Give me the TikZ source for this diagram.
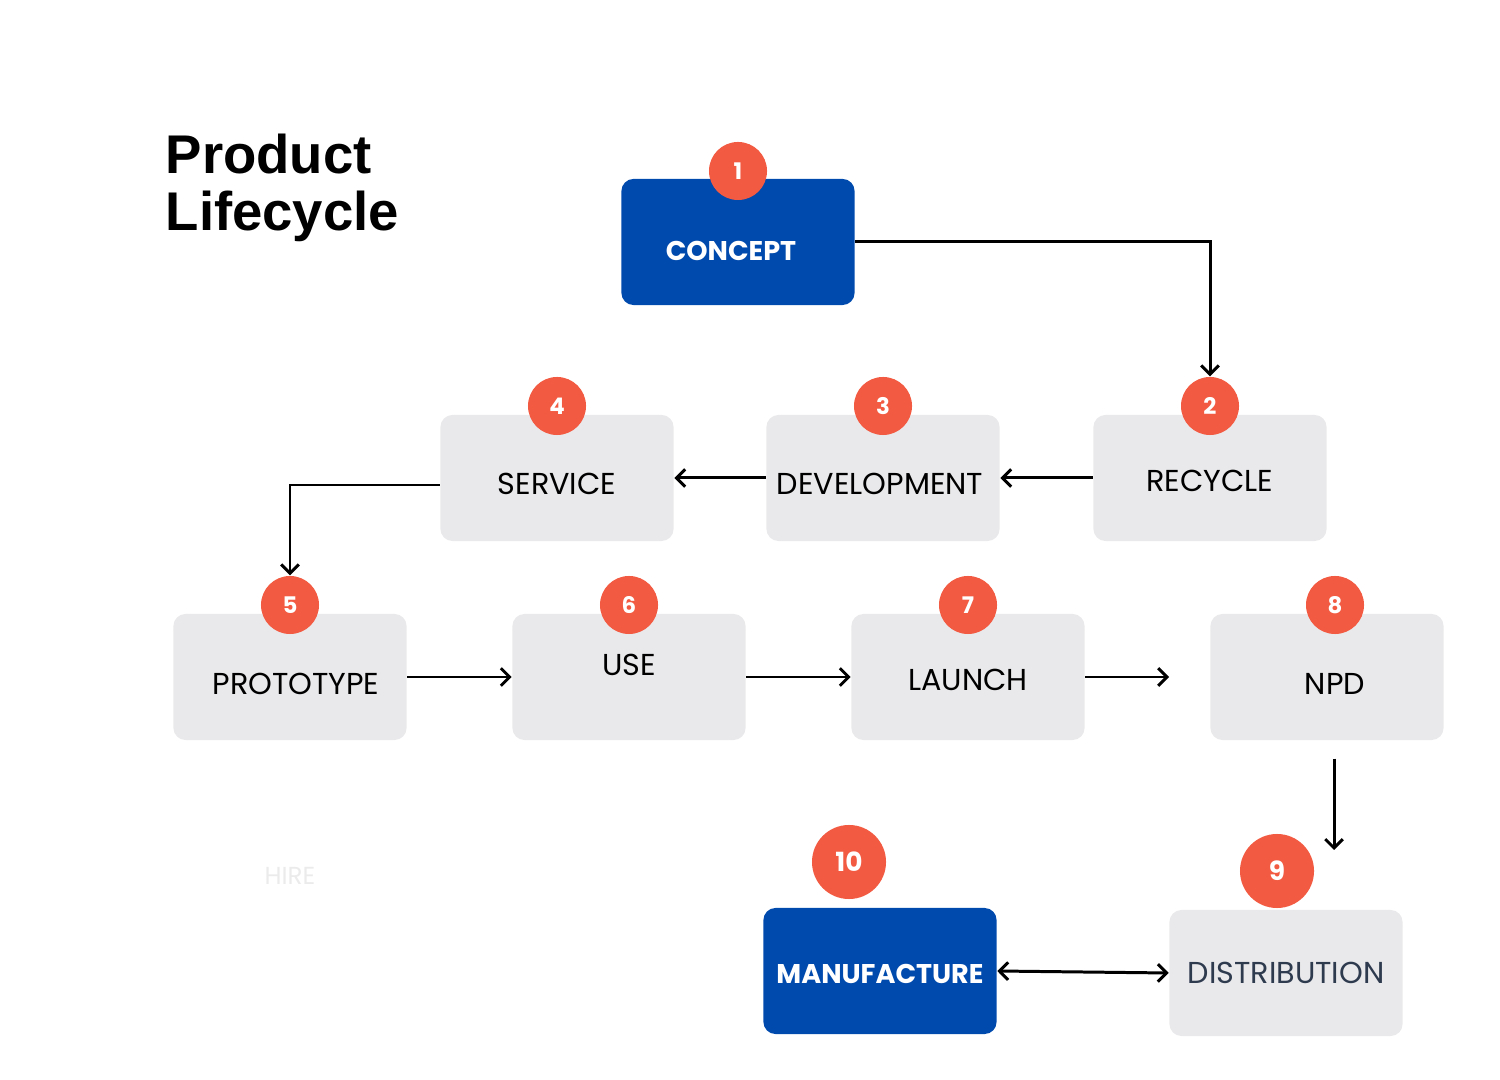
\documentclass[tikz,border=0pt]{standalone}
\usepackage{fontspec}
\setmainfont{Poppins}
\newfontfamily\titlefont{Liberation Sans}
\usetikzlibrary{arrows.meta}
\definecolor{stageblue}{HTML}{004AAD}
\definecolor{stagegrey}{HTML}{E9E9EB}
\definecolor{badgered}{HTML}{F25A41}
\definecolor{darktext}{HTML}{2E3A4E}
\tikzset{
  stage/.style={rectangle, rounded corners=0.12cm, fill=stagegrey, minimum width=2.33cm, minimum height=1.26cm, inner sep=0pt, text height=0.33cm, text depth=0pt, font=\fontsize{8.6}{10}\selectfont},
  keystage/.style={stage, fill=stageblue, text=white, text height=0.21cm, font=\fontsize{7.7}{9}\selectfont\bfseries},
  badge/.style={circle, fill=badgered, text=white, minimum size=0.58cm, inner sep=0pt, font=\fontsize{6.5}{8}\selectfont\bfseries},
  bigbadge/.style={badge, minimum size=0.74cm, font=\fontsize{7.5}{9}\selectfont\bfseries},
  flow/.style={line width=0.85pt, -{Straight Barb[length=2.5pt,width=5pt]}},
  twoway/.style={line width=0.85pt, {Straight Barb[length=2.5pt,width=5pt]}-{Straight Barb[length=2.5pt,width=5pt]}},
}
\begin{document}
\begin{tikzpicture}[x=0.01cm,y=-0.01cm]
\useasboundingbox (0,0) rectangle (1500,1080);

\node[anchor=north west, inner sep=0pt, align=left, font=\titlefont\fontsize{15.5}{16.2}\selectfont\bfseries] (title) at (165,133) {Product\\Lifecycle};

\node[keystage, text height=0.37cm] (concept) at (738,242) {CONCEPT\kern0.14cm};
\node[stage, text height=0.27cm] (recycle) at (1210,478) {RECYCLE};
\node[stage] (development) at (883,478) {\kern-0.06cm DEVELOPMENT};
\node[stage] (service) at (557,478) {SERVICE};
\node[stage, text height=0.35cm] (prototype) at (290,677) {\kern0.12cm PROTOTYPE};
\node[stage, text height=0.21cm, text depth=0.24cm] (use) at (629,677) {USE};
\node[stage, text height=0.27cm] (launch) at (968,677) {LAUNCH};
\node[stage, text height=0.35cm] (npd) at (1327,677) {\kern0.16cm NPD};
\node[keystage, text height=0.25cm] (manufacture) at (880,971) {MANUFACTURE};
\node[stage, text=darktext, text height=0.21cm] (distribution) at (1286,973) {DISTRIBUTION};

\node[badge] (b1) at (738,171) {1};
\node[badge] (b2) at (1210,406) {2};
\node[badge] (b3) at (883,406) {3};
\node[badge] (b4) at (557,406) {4};
\node[badge] (b5) at (290,605) {5};
\node[badge] (b6) at (629,605) {6};
\node[badge] (b7) at (968,605) {7};
\node[badge] (b8) at (1335,605) {8};
\node[bigbadge] (b9) at (1277,871) {9};
\node[bigbadge] (b10) at (849,862) {10};

\node[text=black!8, font=\fontsize{7}{8}\selectfont] (hire) at (290,876) {HIRE};

\coordinate (launchend) at (1169,677);
\coordinate (npdend) at (1334,850);

\draw[flow] (concept.east) -| (b2.north);
\draw[flow] (recycle.west) -- (development.east);
\draw[flow] (development.west) -- (service.west -| service.east);
\draw[flow] ([yshift=-0.07cm]service.west) -| (b5.north);
\draw[flow] (prototype.east) -- (use.west);
\draw[flow] (use.east) -- (launch.west);
\draw[flow] (launch.east) -- (launchend);
\draw[flow, shorten <=0.18cm] (npd.south -| npdend) -- (npdend);
\draw[twoway] (manufacture.east) -- (distribution.west);
\end{tikzpicture}
\end{document}
